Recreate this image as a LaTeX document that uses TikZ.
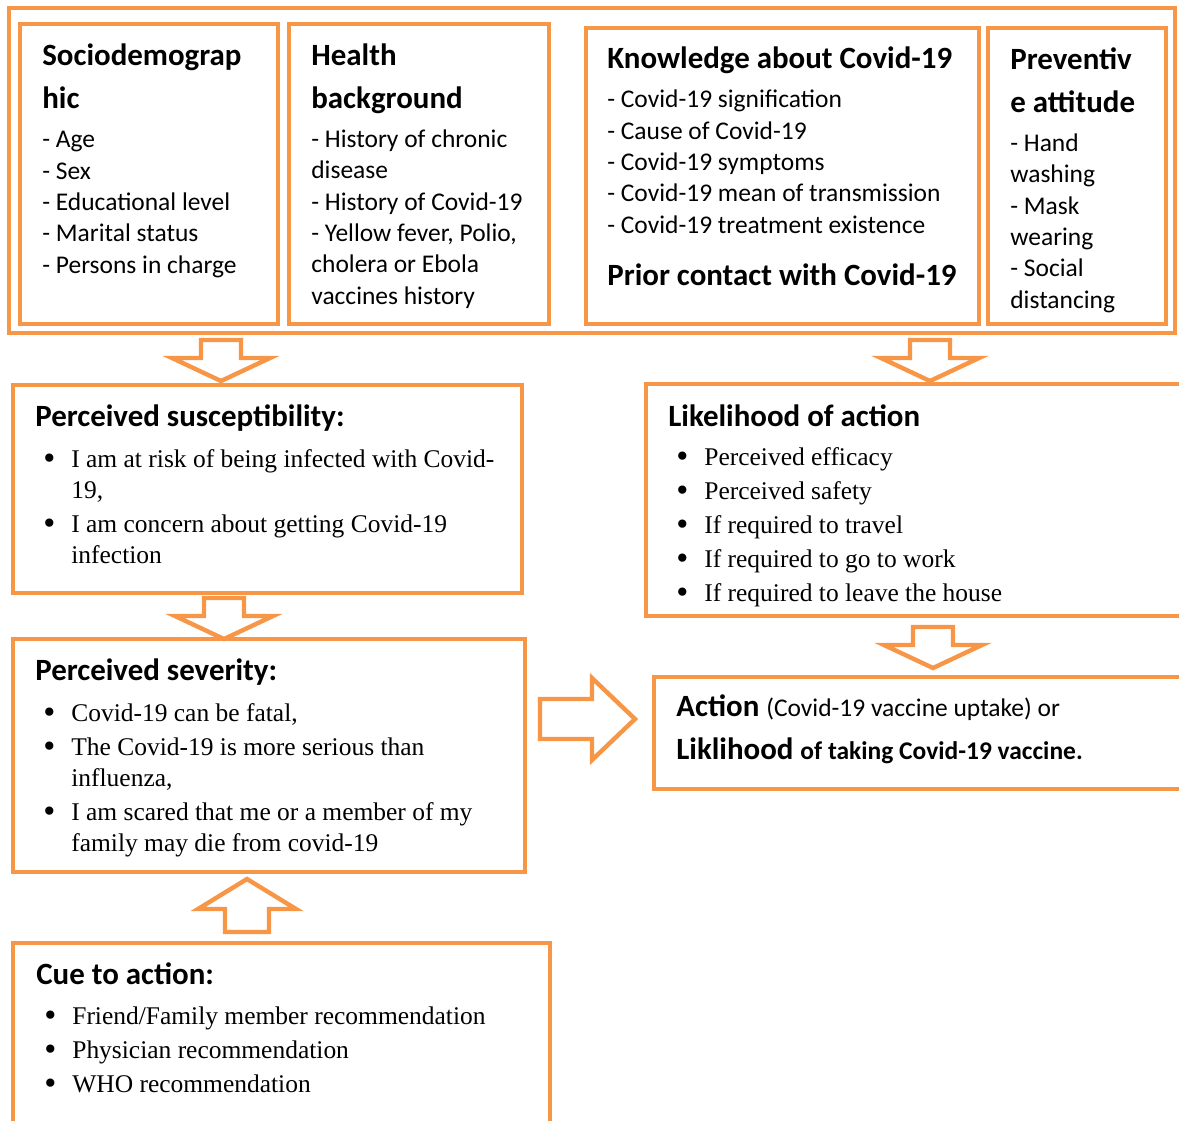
\documentclass[tikz,border=0pt]{standalone}
\usepackage{fontspec}
\setmainfont{Liberation Serif}
\newfontfamily\carlito{Carlito}
\usetikzlibrary{fit}
\definecolor{hbmorange}{RGB}{247,150,70}
\newcommand{\itm}{\makebox[0.56cm][l]{\raisebox{-0.2ex}{\scalebox{1.35}{\textbullet}}}}
\newcommand{\cnt}{\hspace*{0.56cm}}

\begin{document}
\begin{tikzpicture}[x=0.02cm, y=-0.02cm,
    box/.style={draw=hbmorange, line width=2.5pt, inner sep=0pt},
    blockline/.style={draw=hbmorange, line width=2.5pt, line join=miter},
    head/.style={anchor=base west, inner sep=0pt, align=left, font=\carlito\bfseries\fontsize{17.6}{24.4}\selectfont},
    body/.style={anchor=base west, inner sep=0pt, align=left, font=\carlito\fontsize{14.5}{17.8}\selectfont},
    list/.style={anchor=base west, inner sep=0pt, align=left, font=\fontsize{14.5}{17.6}\selectfont},
    arrowdown/.pic={\draw[blockline] (-20,0) -- (20,0) -- (20,18) -- (49,18) -- (0,41) -- (-49,18) -- (-20,18) -- cycle;},
    arrowup/.pic={\draw[blockline] (0,0) -- (49,30) -- (22,30) -- (22,53) -- (-22,53) -- (-22,30) -- (-49,30) -- cycle;},
    arrowright/.pic={\draw[blockline] (0,-20) -- (52,-20) -- (52,-41) -- (95,0) -- (52,41) -- (52,20) -- (0,20) -- cycle;}]
    \useasboundingbox (0,0) rectangle (1179,1120);
    \clip (0,0) rectangle (1179,1120);

    % top row (text nodes sit on the baseline of their last line)
    \node[box, fit={(9,8) (1175,333)}] (frame) {};
    \node[box, fit={(20,24) (278,324)}] (socio) {};
    \node[box, fit={(289,24) (549,324)}] (health) {};
    \node[box, fit={(586,28) (979,324)}] (know) {};
    \node[box, fit={(988,28) (1166,324)}] (prev) {};

    \node[head] (sociohead) at (42,108) {Sociodemograp\\hic};
    \node[body] (sociobody) at (42,273) {- Age\\- Sex\\- Educational level\\- Marital status\\- Persons in charge};
    \node[head] (healthhead) at (311,108) {Health\\background};
    \node[body] (healthbody) at (311,304) {- History of chronic\\disease\\- History of Covid-19\\- Yellow fever, Polio,\\cholera or Ebola\\vaccines history};
    \node[head] (knowhead) at (607,68) {Knowledge about Covid-19};
    \node[body] (knowbody) at (607,233) {- Covid-19 signification\\- Cause of Covid-19\\- Covid-19 symptoms\\- Covid-19 mean of transmission\\- Covid-19 treatment existence};
    \node[head] (contact) at (607,285) {Prior contact with Covid-19};
    \node[head] (prevhead) at (1010,112) {Preventiv\\e attitude};
    \node[body] (prevbody) at (1010,308) {- Hand\\washing\\- Mask\\wearing\\- Social\\distancing};

    % left column
    \node[box, fit={(13,385) (522,593)}] (susc) {};
    \node[head] (suschead) at (35,426) {Perceived susceptibility:};
    \node[list] (susclist) at (43,563) {\itm I am at risk of being infected with Covid-\\\cnt 19,\\[0.06cm]\itm I am concern about getting Covid-19\\\cnt infection};

    \node[box, fit={(13,639) (525,872)}] (sever) {};
    \node[head] (severhead) at (35,680) {Perceived severity:};
    \node[list] (severlist) at (43,851) {\itm Covid-19 can be fatal,\\[0.06cm]\itm The Covid-19 is more serious than\\\cnt influenza,\\[0.06cm]\itm I am scared that me or a member of my\\\cnt family may die from covid-19};

    \node[box, fit={(13,943) (550,1140)}] (cue) {};
    \node[head] (cuehead) at (36,984) {Cue to action:};
    \node[list] (cuelist) at (44,1092) {\itm Friend/Family member recommendation\\[0.06cm]\itm Physician recommendation\\[0.06cm]\itm WHO recommendation};

    % right column
    \node[box, fit={(646,384) (1200,616)}] (likely) {};
    \node[head] (likelyhead) at (668,426) {Likelihood of action};
    \node[list] (likelylist) at (676,601) {\itm Perceived efficacy\\[0.06cm]\itm Perceived safety\\[0.06cm]\itm If required to travel\\[0.06cm]\itm If required to go to work\\[0.06cm]\itm If required to leave the house};

    \node[box, fit={(654,677) (1200,789)}] (action) {};
    \node[head] (actiontext) at (676,759) {Action {\mdseries\fontsize{14.5}{24.4}\selectfont(Covid-19 vaccine uptake) or}\\Liklihood {\fontsize{14.5}{24.4}\selectfont of taking Covid-19 vaccine.}};

    % block arrows
    \pic (arrsocio) at (221,340) {arrowdown};
    \pic (arrknow) at (930,340) {arrowdown};
    \pic (arrsusc) at (224,598) {arrowdown};
    \pic (arrlikely) at (933,627) {arrowdown};
    \pic (arrcue) at (247,879) {arrowup};
    \pic (arrsever) at (540,719) {arrowright};
\end{tikzpicture}
\end{document}
